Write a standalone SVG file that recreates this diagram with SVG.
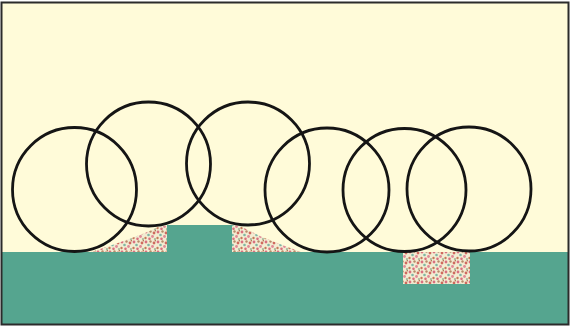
<svg xmlns="http://www.w3.org/2000/svg" width="570" height="327" viewBox="0 0 570 327">
<style>
.ring{fill:none;stroke:#151515;stroke-width:2.8}
.ground{fill:#55a58f}
.dep{fill:url(#speck)}
</style>
<defs>
<pattern id="speck" width="12" height="10" patternUnits="userSpaceOnUse">
<rect width="12" height="10" fill="#f3ecd2"/>
<circle cx="2" cy="2" r="1.4" fill="#d9707f"/>
<circle cx="6.5" cy="1.5" r="1.2" fill="#b98a6a"/>
<circle cx="10" cy="3" r="1.4" fill="#cf6a5e"/>
<circle cx="4.5" cy="5" r="1.3" fill="#7fb6a4"/>
<circle cx="8.5" cy="6.5" r="1.4" fill="#e08a96"/>
<circle cx="1.5" cy="8" r="1.2" fill="#c47a5a"/>
<circle cx="5.5" cy="8.8" r="1.3" fill="#d9707f"/>
<circle cx="11" cy="9" r="1.1" fill="#a8b89a"/>
<circle cx="11.5" cy="0.5" r="0.9" fill="#b5785a"/>
</pattern>
</defs>
<rect x="0" y="0" width="570" height="327" fill="#ffffff"/>
<rect x="2" y="3" width="566" height="321" fill="#fffbd9"/>
<g id="ground">
<path class="ground" d="M2,252 H167 V225 H232 V252 H403 V284 H470 V252 H568 V324 H2 Z"/>
</g>
<g id="deposits">
<path class="dep" d="M91,252 L118,243 L145,233 L160,226 L167,226 L167,252 Z"/>
<path class="dep" d="M232,225 L240,226 L262,237 L285,246 L301,252 L232,252 Z"/>
<rect class="dep" x="403" y="252" width="67" height="32"/>
</g>
<g id="circles">
<circle id="c1" class="ring" cx="74.5" cy="189.5" r="62"/>
<circle id="c2" class="ring" cx="148.5" cy="164" r="62"/>
<circle id="c3" class="ring" cx="248" cy="163.5" r="61.5"/>
<circle id="c4" class="ring" cx="327" cy="190" r="62"/>
<circle id="c5" class="ring" cx="404.5" cy="190" r="61.5"/>
<circle id="c6" class="ring" cx="469" cy="189" r="62"/>
</g>
<rect x="1.5" y="2.5" width="567" height="322" fill="none" stroke="#2b2b2b" stroke-width="2"/>
</svg>
